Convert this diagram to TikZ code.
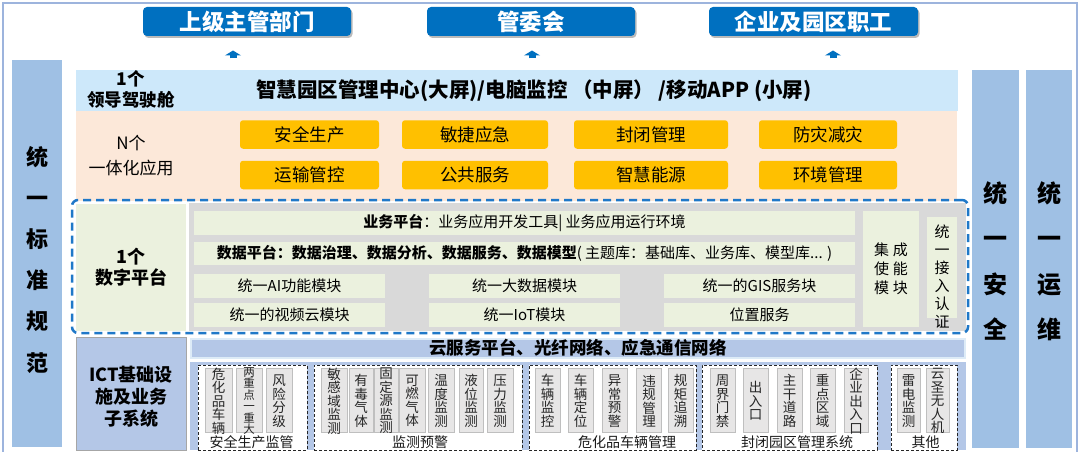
\documentclass[tikz,border=0pt]{standalone}
\usepackage{fontspec}
\setmainfont{Noto Sans CJK SC}
\usetikzlibrary{shadows,arrows.meta}
\definecolor{framec}{HTML}{9DB4DD}
\definecolor{topblue}{HTML}{0070C0}
\definecolor{colc}{HTML}{9FC0E4}
\definecolor{leadc}{HTML}{CDE8FA}
\definecolor{appc}{HTML}{FCE8D9}
\definecolor{yel}{HTML}{FFC000}
\definecolor{lgreen}{HTML}{EBF1DE}
\definecolor{greyc}{HTML}{D9D9D9}
\definecolor{dashc}{HTML}{1F78C8}
\definecolor{ictc}{HTML}{B4C7E7}
\definecolor{ictb}{HTML}{A6A6A6}
\definecolor{cloudb}{HTML}{DDEBF7}
\definecolor{itemc}{HTML}{E7E6E6}
\definecolor{itemb}{HTML}{BFBFBF}
\newcommand\fsz[2]{\fontsize{#1}{#2}\selectfont\lineskiplimit=-30pt\relax}
\newcommand\mkitem[5]{%
  \node[itembox,minimum width=#3pt] (#1) at (#2,400) {};
  \node[itemtxt,#5] (#1-t) at ([yshift=-1pt]#1.center) {#4};}
\begin{document}
\begin{tikzpicture}[x=1pt,y=-1pt,
  every node/.style={inner sep=0pt,outer sep=0pt},
  topbox/.style={fill=topblue,rounded corners=4pt,text=white,font=\bfseries\fsz{22.5}{24},
    minimum width=208pt,minimum height=29pt,
    drop shadow={shadow xshift=1.5pt,shadow yshift=-2pt,opacity=.45,fill=black!60}},
  uparrow/.style={draw=topblue,line width=7pt,-{Triangle[width=16pt,length=5pt]}},
  colbox/.style={fill=colc},
  coltextL/.style={font=\bfseries\fsz{22}{41.2},align=center},
  coltextR/.style={font=\bfseries\fsz{24}{45.5},align=center},
  ybox/.style={fill=yel,rounded corners=3pt,font=\fsz{17.5}{17.5},minimum height=28.5pt},
  mbox/.style={fill=lgreen,font=\fsz{15}{15},minimum height=24pt},
  grp/.style={fill=white,draw=black!85,dash pattern=on 3pt off 2pt,line width=0.9pt,minimum height=85pt},
  grplbl/.style={font=\fsz{14}{14},text=black!90},
  itembox/.style={fill=itemc,draw=itemb,line width=0.8pt,minimum height=64pt},
  itemtxt/.style={font=\fsz{13.5}{13.5},align=center,text=black!85},
]
\useasboundingbox (0,0) rectangle (1080,452);
\fill[white] (0,0) rectangle (1080,452);
\draw[framec,line width=1.2pt] (3,3) rectangle (1077,470);

% top boxes
\node[topbox] (up1) at (247,21.5) {上级主管部门};
\node[topbox] (up2) at (531,21.5) {管委会};
\node[topbox,minimum width=209pt] (up3) at (813.5,21.5) {企业及园区职工};
\coordinate (a1s) at (233,58.5); \coordinate (a1e) at (233,50.5);
\coordinate (a2s) at (532,58.5); \coordinate (a2e) at (532,50.5);
\coordinate (a3s) at (833,58.5); \coordinate (a3e) at (833,50.5);
\draw[uparrow] (a1s) -- (a1e);
\draw[uparrow] (a2s) -- (a2e);
\draw[uparrow] (a3s) -- (a3e);

% side columns
\node[colbox,minimum width=50pt,minimum height=387pt] (stdcol) at (37,253.5) {};
\node[coltextL] (stdtxt) at (37,259.5) {统\\一\\标\\准\\规\\范};
\node[colbox,minimum width=47pt,minimum height=378pt] (seccol) at (995.5,259) {};
\node[coltextR] (sectxt) at (995.5,261) {统\\一\\安\\全};
\node[colbox,minimum width=46pt,minimum height=378pt] (opscol) at (1049,259) {};
\node[coltextR] (opstxt) at (1049,261) {统\\一\\运\\维};

% leader row
\node[fill=leadc,minimum width=882pt,minimum height=40.5pt] (lead) at (517,90.75) {};
\node[font=\bfseries\fsz{17.5}{21},align=center] (leadlbl) at (131,89.5) {1个\\领导驾驶舱};
\node[font=\bfseries\fsz{20.5}{20.5}] (leadtxt) at (534,91) {智慧园区管理中心(大屏)/电脑监控 （中屏） /移动APP (小屏)};

% application row
\node[fill=appc,minimum width=881pt,minimum height=90pt] (app) at (516.5,156) {};
\node[font=\fsz{17}{25},align=center] (applbl) at (131,155.5) {N个\\一体化应用};
\node[ybox,minimum width=139pt] (y11) at (309.5,134.5) {安全生产};
\node[ybox,minimum width=146pt] (y12) at (475,134.5) {敏捷应急};
\node[ybox,minimum width=154pt] (y13) at (651,134.5) {封闭管理};
\node[ybox,minimum width=138pt] (y14) at (828,134.5) {防灾减灾};
\node[ybox,minimum width=139pt] (y21) at (309.5,175) {运输管控};
\node[ybox,minimum width=146pt] (y22) at (475,175) {公共服务};
\node[ybox,minimum width=154pt] (y23) at (651,175) {智慧能源};
\node[ybox,minimum width=138pt] (y24) at (828,175) {环境管理};

% digital platform
\node[fill=greyc,minimum width=777pt,minimum height=128pt] (dpgrey) at (577,267) {};
\node[fill=lgreen,minimum width=110pt,minimum height=127pt,font=\bfseries\fsz{18}{21},align=center] (dplbl) at (131,267) {1个\\数字平台};
\node[mbox,minimum width=661pt] (biz) at (524.5,223) {\textbf{业务平台}：业务应用开发工具| 业务应用运行环境};
\node[mbox,minimum width=661pt,minimum height=23pt] (data) at (524.5,253.5) {\textbf{数据平台：数据治理、数据分析、数据服务、数据模型}( 主题库：基础库、业务库、模型库... )};
\node[mbox,minimum width=191pt] (m11) at (289.5,286) {统一AI功能模块};
\node[mbox,minimum width=191pt] (m12) at (524.5,286) {统一大数据模块};
\node[mbox,minimum width=191pt] (m13) at (759.5,286) {统一的GIS服务块};
\node[mbox,minimum width=191pt] (m21) at (289.5,315) {统一的视频云模块};
\node[mbox,minimum width=191pt] (m22) at (524.5,315) {统一IoT模块};
\node[mbox,minimum width=191pt] (m23) at (759.5,315) {位置服务};
\node[fill=lgreen,minimum width=56pt,minimum height=116pt,font=\fsz{15}{19},align=center] (integ) at (891,269) {集\hspace{4pt}成\\使\hspace{4pt}能\\模\hspace{4pt}块};
\node[fill=lgreen,minimum width=30pt,minimum height=101pt] (auth) at (942,267.5) {};
\node[font=\fsz{15}{18},align=center] (authtxt) at (942,277) {统\\一\\接\\入\\认\\证};
\node[draw=dashc,line width=2.5pt,dash pattern=on 8pt off 5pt,rounded corners=6pt,minimum width=896pt,minimum height=133pt] (dpframe) at (520,266.5) {};

% ICT
\node[fill=ictc,draw=ictb,line width=0.8pt,minimum width=110pt,minimum height=113pt] (ictlbl) at (131,393.5) {};
\node[font=\bfseries\fsz{18}{22},align=center] (icttxt) at (131,397) {ICT基础设\\施及业务\\子系统};
\node[fill=ictc,draw=cloudb,line width=2pt,minimum width=774pt,minimum height=19pt,font=\bfseries\fsz{17.5}{17.5}] (cloud) at (578,348) {云服务平台、光纤网络、应急通信网络};
\node[fill=ictc,minimum width=776pt,minimum height=88pt] (bpanel) at (578,406) {};

\node[grp,minimum width=109pt] (g1) at (252.5,407.5) {};
\node[grp,minimum width=208pt] (g2) at (418,407.5) {};
\node[grp,minimum width=167pt] (g3) at (612.5,407.5) {};
\node[grp,minimum width=175pt] (g4) at (789.5,407.5) {};
\node[grp,minimum width=66pt] (g5) at (924,407.5) {};

\mkitem{i11}{218.5}{27}{危\\化\\品\\车\\辆}{}
\mkitem{i12}{249}{26}{两\\重\\点\\一\\重\\大}{font=\fsz{11.5}{11.5}}
\mkitem{i13}{279}{26}{风\\险\\分\\级}{}
\mkitem{i21}{334}{26}{敏\\感\\域\\监\\测}{}
\mkitem{i22}{361}{24}{有\\毒\\气\\体}{}
\mkitem{i23}{386}{24}{固\\定\\源\\监\\测}{}
\mkitem{i24}{412}{26}{可\\燃\\气\\体}{}
\mkitem{i25}{441}{26}{温\\度\\监\\测}{}
\mkitem{i26}{471}{24}{液\\位\\监\\测}{}
\mkitem{i27}{500}{26}{压\\力\\监\\测}{}
\mkitem{i31}{547.5}{25}{车\\辆\\监\\控}{}
\mkitem{i32}{580.5}{25}{车\\辆\\定\\位}{}
\mkitem{i33}{614.5}{25}{异\\常\\预\\警}{}
\mkitem{i34}{649}{25}{违\\规\\管\\理}{}
\mkitem{i35}{680.5}{25}{规\\矩\\追\\溯}{}
\mkitem{i41}{722.5}{25}{周\\界\\门\\禁}{}
\mkitem{i42}{755.5}{25}{出\\入\\口}{}
\mkitem{i43}{789.5}{25}{主\\干\\道\\路}{}
\mkitem{i44}{822.5}{25}{重\\点\\区\\域}{}
\mkitem{i45}{856}{24}{企\\业\\出\\入\\口}{}
\mkitem{i51}{908.5}{23}{雷\\电\\监\\测}{}
\mkitem{i52}{937.5}{23}{云\\圣\\无\\人\\机}{}

\node[grplbl] (g1l) at (251.5,442) {安全生产监管};
\node[grplbl] (g2l) at (420,442) {监测预警};
\node[grplbl] (g3l) at (627,442) {危化品车辆管理};
\node[grplbl] (g4l) at (797,442) {封闭园区管理系统};
\node[grplbl] (g5l) at (925.5,442) {其他};
\end{tikzpicture}
\end{document}
